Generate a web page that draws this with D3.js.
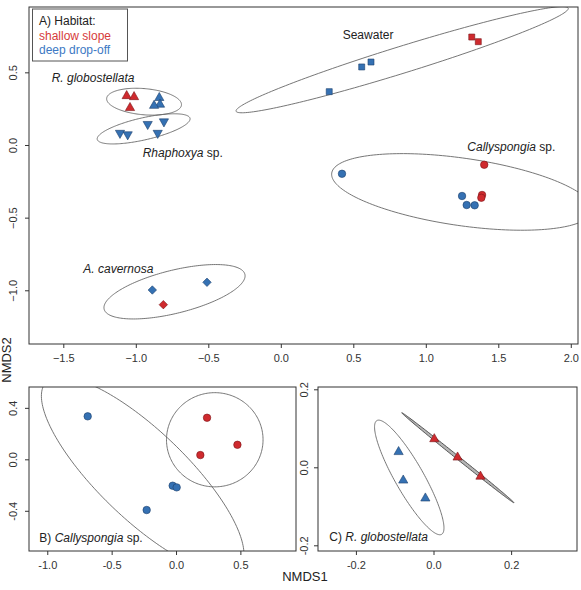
<!DOCTYPE html>
<html><head><meta charset="utf-8">
<script src="https://cdn.jsdelivr.net/npm/d3@7"></script>
<style>body{margin:0;background:#fff;} svg{display:block;font-family:"Liberation Sans",Arial,sans-serif;}</style>
</head><body>
<svg id="c" width="581" height="590"></svg>
<script>
// ---------- DATA ----------
const habitats = ["shallow slope", "deep drop-off"];
const habitatColors = ["#cf2a2e", "#3571b3"];
const habitatStroke = ["#7a1418", "#1d3f6b"];

// Panel A (all species) : [NMDS1, NMDS2, habitatIndex]
const rglobA = [[-1.063,0.339,0],[-1.012,0.332,0],[-1.040,0.257,0],[-0.838,0.326,1],[-0.833,0.280,1],[-0.874,0.272,1]];
const rhaphA = [[-1.109,0.081,1],[-1.056,0.071,1],[-0.918,0.142,1],[-0.806,0.160,1],[-0.849,0.081,1]];
const seawaterA = [[0.334,0.367,1],[0.558,0.537,1],[0.622,0.571,1],[1.317,0.743,0],[1.362,0.711,0]];
const callyA = [[0.422,-0.198,1],[1.250,-0.351,1],[1.282,-0.413,1],[1.337,-0.415,1],[1.403,-0.136,0],[1.388,-0.344,0],[1.383,-0.363,0]];
const acavA = [[-0.886,-0.998,1],[-0.509,-0.945,1],[-0.810,-1.099,0]];
// ellipses: [centerX, centerY, semiMajor, semiMinor, angleDeg]
const ellipsesA = [[-0.943,0.298,0.259,0.090,-5],[-0.946,0.111,0.328,0.076,12.8],[0.837,0.587,1.199,0.092,17.2],[1.25,-0.323,0.908,0.232,-8.2],[-0.733,-1.010,0.50,0.148,13.9]];
const labelsA = [["R. globostellata","",51.7,82,"i"],["Rhaphoxya"," sp.",142.7,156.5,"i"],["Seawater","",342.7,38.5,"n"],["Callyspongia"," sp.",467.3,151,"i"],["A. cavernosa","",83.3,272.5,"i"]];

// Panel B (Callyspongia sp.)
const callyB = [[-0.686,0.334,1],[-0.026,-0.205,1],[0.005,-0.218,1],[-0.228,-0.394,1],[0.241,0.323,0],[0.477,0.113,0],[0.189,0.033,0]];
const ellipsesB = [[0.301,0.152,0.375,0.366,0],[-0.259,-0.122,1.041,0.342,-43.9]];

// Panel C (R. globostellata)
const rglobC = [[-0.090,0.040,1],[-0.078,-0.033,1],[-0.021,-0.079,1],[0.002,0.073,0],[0.062,0.026,0],[0.121,-0.023,0]];
const ellipsesC = [[-0.0625,-0.026,0.168,0.037,-60.2,0],[0.0627,0.0246,0.185,0.004,-38.6,1]];

const ticksAx = [-1.5,-1.0,-0.5,0.0,0.5,1.0,1.5,2.0];
const ticksAy = [-1.0,-0.5,0.0,0.5];
const ticksBx = [-1.0,-0.5,0.0,0.5];
const ticksBy = [-0.4,0.0,0.4];
const ticksCx = [-0.2,0.0,0.2];
const ticksCy = [-0.2,0.0,0.2];

// ---------- DRAW ----------
const svg = d3.select("#c");
const fmt = d3.format(".1f");
const fmtMinus = v => fmt(v).replace("-", "\u2212");
const fmtHyph = v => fmt(v).replace("\u2212", "-");

function panel(id, box, xdom, ydom, tx, ty, tf, ylabOff) {
  const [x0,y0,x1,y1] = box;
  const x = d3.scaleLinear().domain(xdom).range([x0,x1]);
  const y = d3.scaleLinear().domain(ydom).range([y1,y0]);
  const g = svg.append("g");
  svg.append("clipPath").attr("id", id).append("rect").attr("x",x0).attr("y",y0).attr("width",x1-x0).attr("height",y1-y0);
  const ax = g.append("g").attr("transform",`translate(0,${y1})`)
    .call(d3.axisBottom(x).tickValues(tx).tickFormat(tf).tickSize(4).tickPadding(6));
  const ay = g.append("g").attr("transform",`translate(${x0},0)`)
    .call(d3.axisLeft(y).tickValues(ty).tickFormat(tf).tickSize(4));
  [ax,ay].forEach(a => { a.select(".domain").remove(); a.selectAll("line").attr("stroke","#333");
    a.selectAll("text").attr("fill","#333").style("font-size","11px").style("font-family",'"Liberation Sans",Arial,sans-serif'); });
  ay.selectAll("text").attr("x",null).attr("dy",null).attr("transform","rotate(-90)")
    .attr("x",0).attr("y",-ylabOff).attr("text-anchor","middle");
  return {x,y,g,clip:id,box};
}

function ellipsePath(p, e) {
  const [cx,cy,a,b,ang] = e, th = ang*Math.PI/180;
  const pts = d3.range(0, 200).map(i => {
    const t = i/200*2*Math.PI;
    return [cx + a*Math.cos(t)*Math.cos(th) - b*Math.sin(t)*Math.sin(th),
            cy + a*Math.cos(t)*Math.sin(th) + b*Math.sin(t)*Math.cos(th)];
  });
  return d3.line().x(d=>p.x(d[0])).y(d=>p.y(d[1])).curve(d3.curveLinearClosed)(pts);
}

function drawEllipses(p, list) {
  p.g.append("g").attr("clip-path",`url(#${p.clip})`).selectAll("path").data(list).join("path")
    .attr("d", e => ellipsePath(p, e))
    .attr("fill", e => e[5] === 1 ? "#b5b5b5" : "none")
    .attr("stroke", e => e[5] === 1 ? "#444" : "#666")
    .attr("stroke-width", 0.9);
}

const shapes = {
  tri: "M0,-5.2L4.6,2.9L-4.6,2.9Z",
  tridown: "M0,5.2L4.6,-2.9L-4.6,-2.9Z",
  square: "M-3,-3L3,-3L3,3L-3,3Z",
  diamond: "M0,-4.2L4.2,0L0,4.2L-4.2,0Z",
  circle: d3.symbol(d3.symbolCircle, 44)()
};
function drawPoints(p, data, shape) {
  p.g.append("g").selectAll("path").data(data).join("path")
    .attr("d", shapes[shape])
    .attr("transform", d => `translate(${p.x(d[0])},${p.y(d[1])})`)
    .attr("fill", d => habitatColors[d[2]])
    .attr("stroke", d => habitatStroke[d[2]])
    .attr("stroke-width", 0.6);
}
function drawBox(p) {
  const [x0,y0,x1,y1] = p.box;
  p.g.append("rect").attr("x",x0).attr("y",y0).attr("width",x1-x0).attr("height",y1-y0)
    .attr("fill","none").attr("stroke","#333").attr("stroke-width",1);
}

// Panel A
const A = panel("clipA", [29,7,578,344], [-1.7366,2.0497], [-1.3696,0.9497], ticksAx, ticksAy, fmtMinus, 12);
drawEllipses(A, ellipsesA);
drawPoints(A, rglobA, "tri");
drawPoints(A, rhaphA, "tridown");
drawPoints(A, seawaterA, "square");
drawPoints(A, callyA, "circle");
drawPoints(A, acavA, "diamond");
drawBox(A);
labelsA.forEach(l => {
  const t = A.g.append("text").attr("x",l[2]).attr("y",l[3]).style("font-size","12px").attr("fill","#222");
  t.append("tspan").text(l[0]).style("font-style", l[4]==="i" ? "italic" : "normal");
  if (l[1]) t.append("tspan").text(l[1]);
});
// legend
A.g.append("rect").attr("x",32.5).attr("y",9).attr("width",95).attr("height",52)
  .attr("fill","#fff").attr("stroke","#555").attr("stroke-width",1);
A.g.append("text").attr("x",39).attr("y",25).style("font-size","12px").attr("fill","#222").text("A) Habitat:");
habitats.forEach((h,i) => A.g.append("text").attr("x",39).attr("y",39.5+i*14.5)
  .style("font-size","12px").attr("fill", i===0 ? "#d63a3a" : "#3d79c4").text(h));

// Panel B
const B = panel("clipB", [29,387,296,551], [-1.142,0.932], [-0.7125,0.562], ticksBx, ticksBy, fmtHyph, 12.5);
drawEllipses(B, ellipsesB);
drawPoints(B, callyB, "circle");
drawBox(B);
const tb = B.g.append("text").attr("x",39.3).attr("y",542).style("font-size","12px").attr("fill","#222");
tb.append("tspan").text("B) "); tb.append("tspan").text("Callyspongia").style("font-style","italic"); tb.append("tspan").text(" sp.");

// Panel C
const C = panel("clipC", [318,387,577,551], [-0.2977,0.3698], [-0.2146,0.2059], ticksCx, ticksCy, fmtHyph, 10.5);
drawEllipses(C, ellipsesC);
drawPoints(C, rglobC, "tri");
drawBox(C);
const tc = C.g.append("text").attr("x",329.3).attr("y",541).style("font-size","12px").attr("fill","#222");
tc.append("tspan").text("C) "); tc.append("tspan").text("R. globostellata").style("font-style","italic");

// axis titles
svg.append("text").attr("x",305).attr("y",581).attr("text-anchor","middle").style("font-size","13px").attr("fill","#222").text("NMDS1");
svg.append("text").attr("transform","translate(10.5,360) rotate(-90)").attr("text-anchor","middle").style("font-size","13px").attr("fill","#222").text("NMDS2");
</script>
</body></html>
